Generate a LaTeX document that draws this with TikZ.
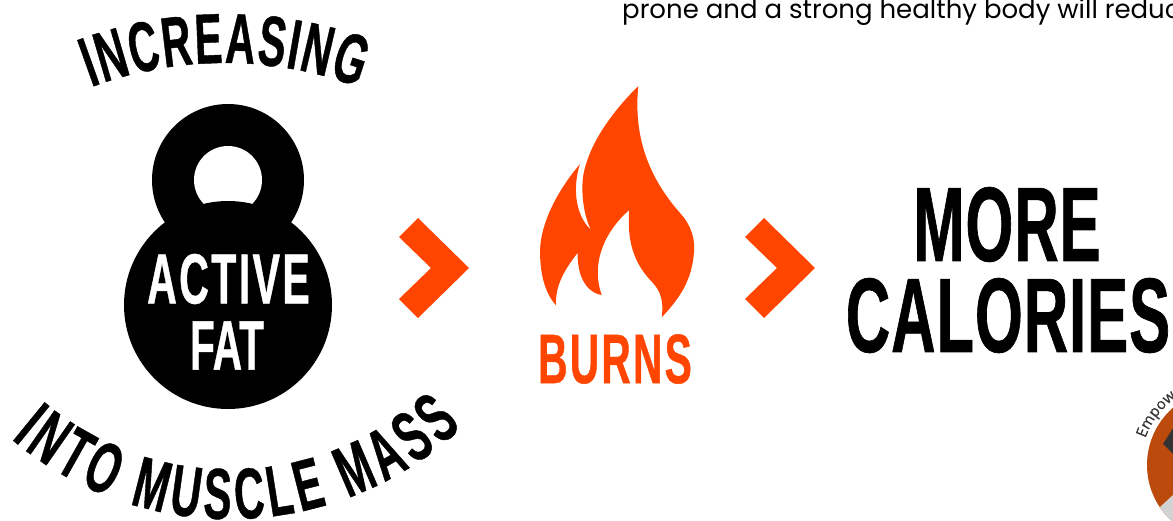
\documentclass[tikz,border=0pt]{standalone}
\usepackage{fontspec}
\usetikzlibrary{decorations.text}
\setmainfont{Liberation Sans}
\newfontfamily\beb[FakeStretch=0.58,FakeBold=0.6]{Liberation Sans}
\newfontfamily\bebwide[FakeStretch=0.58,FakeBold=0.6,LetterSpace=3.3]{Liberation Sans}
\newfontfamily\bebcal[FakeStretch=0.58,FakeBold=0.6,LetterSpace=0.9]{Liberation Sans}
\newfontfamily\bodyfont{Poppins}
\newfontfamily\badgefont[FakeBold=0.4]{Open Sans}
\definecolor{flame}{HTML}{FF4500}
\definecolor{rust}{HTML}{BC4A0C}
\definecolor{badgegrey}{HTML}{D2D2D2}
\definecolor{badgedark}{HTML}{333333}
\newcommand{\bebfont}[1]{\fontsize{#1}{#1}\selectfont\beb\bfseries}
\newcommand{\bebwfont}[1]{\fontsize{#1}{#1}\selectfont\bebwide\bfseries}
\newcommand{\bebcfont}[1]{\fontsize{#1}{#1}\selectfont\bebcal\bfseries}
\tikzset{
  x=1pt,y=1pt,
  bigtext/.style={inner sep=0pt,outer sep=0pt,anchor=center},
  chevron/.style={fill=flame,draw=none},
}
\begin{document}
\begin{tikzpicture}
\useasboundingbox (0,-520) rectangle (1173,0);
\clip (0,-520) rectangle (1173,0);
% body text
\node[inner sep=0pt,anchor=base west] (bodyline) at (622,-18.5)
  {\fontsize{26}{26}\selectfont\bodyfont prone and a strong healthy body will reduc};
% kettlebell
\fill[black] (228,-180) circle[radius=76];
\fill[white] (228,-180) circle[radius=34];
\fill[black] (228,-305) circle[radius=104];
\node[bigtext,text=white] (active) at (228.5,-279) {\bebwfont{71}ACTIVE};
\node[bigtext,text=white] (fat) at (227,-345.5) {\bebfont{70}FAT};
% curved texts
\path[decorate,decoration={text along path,text align={fit to path},
   text={|\bebfont{71}|INCREASING}}]
   (225,-445) ++(110.5:382) arc[start angle=110.5,end angle=69.5,radius=382];
\path[decorate,decoration={text along path,text align={fit to path},
   text={|\bebfont{72}|INTO MUSCLE MASS}}]
   (230,-180) ++(229.8:339) arc[start angle=229.8,end angle=313.2,radius=339];
% chevrons
\fill[chevron] (418,-218) -- (469,-268) -- (418,-318) -- (399,-299) -- (431,-268) -- (399,-237) -- cycle;
\fill[chevron] (764,-218) -- (815,-268) -- (764,-318) -- (745,-299) -- (777,-268) -- (745,-237) -- cycle;
% flame
\fill[flame] (638.3,-86)
  .. controls (634,-130) and (644,-172) .. (680,-213)
  .. controls (692,-226) and (695,-240) .. (694,-252)
  .. controls (692,-280) and (680,-298) .. (661.7,-317.3)
  .. controls (664,-300) and (660,-291) .. (653,-283)
  .. controls (632,-262) and (627,-238) .. (629.3,-210)
  .. controls (606,-230) and (590,-262) .. (601.7,-295)
  .. controls (584,-292) and (577,-272) .. (577.7,-252.7)
  .. controls (566,-268) and (555,-284) .. (556,-305.3)
  .. controls (544,-292) and (540,-272) .. (540,-250)
  .. controls (541,-222) and (558,-190) .. (580,-164)
  .. controls (573,-185) and (574,-214) .. (591,-230)
  .. controls (584,-216) and (581,-195) .. (583,-177)
  .. controls (588,-145) and (612,-112) .. (638.3,-86) -- cycle;
\node[bigtext,text=flame] (burns) at (615,-359) {\bebwfont{70}BURNS};
% more calories
\node[bigtext] (more) at (1007,-224.5) {\bebcfont{106}MORE};
\node[bigtext] (calories) at (1008,-315.5) {\bebcfont{106}CALORIES};
% badge
\begin{scope}
  \clip (1223,-465) circle[radius=76];
  \fill[rust] (1223,-465) circle[radius=76];
  \fill[badgegrey] (1160,-507) -- (1173,-495) -- (1240,-440) -- (1300,-560) -- (1160,-560) -- cycle;
  \fill[badgedark] (1163,-444) -- (1175,-425) -- (1200,-440) -- (1175,-456) -- cycle;
\end{scope}
\path[decorate,decoration={text along path,
   text={|\fontsize{15}{15}\selectfont\badgefont\color{badgedark}|Empow}}]
   (1223,-465) ++(161:82) arc[start angle=161,end angle=110,radius=82];
\end{tikzpicture}
\end{document}
